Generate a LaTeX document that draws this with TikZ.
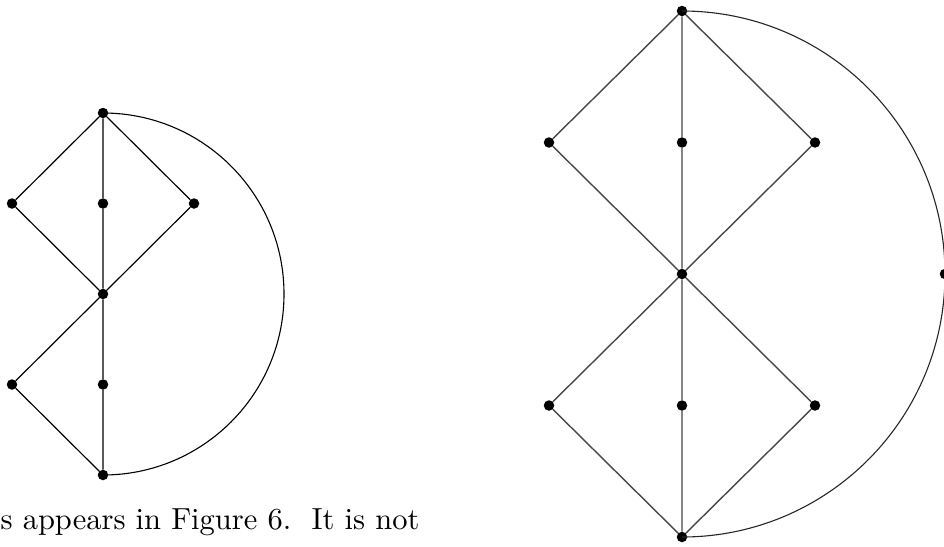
\documentclass[tikz,border=0pt]{standalone}
\begin{document}
\begin{tikzpicture}[x=1pt,y=1pt,
  dot/.style={circle,fill=black,inner sep=0pt,minimum size=10.5pt},
  edgeL/.style={draw=black,line width=1.2pt},
  edgeR/.style={draw=black!72,line width=1.4pt},
  arcL/.style={draw=black,line width=1.1pt},
  arcR/.style={draw=black!85,line width=1.1pt}]
\useasboundingbox (0,0) rectangle (944,-546);
% left graph
\node[dot] (lT) at (103,-113) {};
\node[dot] (lL1) at (12,-203.5) {};
\node[dot] (lM1) at (103,-203.5) {};
\node[dot] (lR1) at (194,-203.5) {};
\node[dot] (lC) at (103,-294) {};
\node[dot] (lL2) at (12,-384.5) {};
\node[dot] (lM2) at (103,-384.5) {};
\node[dot] (lB) at (103,-475) {};
\path[edgeL] (lT) -- (lL1) (lT) -- (lM1) (lT) -- (lR1)
  (lL1) -- (lC) (lM1) -- (lC) (lR1) -- (lC)
  (lC) -- (lL2) (lC) -- (lM2)
  (lL2) -- (lB) (lM2) -- (lB);
\path[arcL] (lT.center) arc[start angle=90,end angle=-90,radius=181];
% right graph
\node[dot] (rT) at (682,-11) {};
\node[dot] (rL1) at (549,-142.5) {};
\node[dot] (rM1) at (682,-142.5) {};
\node[dot] (rR1) at (815,-142.5) {};
\node[dot] (rC) at (682,-274) {};
\node[dot] (rL2) at (549,-405.5) {};
\node[dot] (rM2) at (682,-405.5) {};
\node[dot] (rR2) at (815,-405.5) {};
\node[dot] (rB) at (682,-537) {};
\node[dot] (rE) at (945,-274) {};
\path[edgeR] (rT) -- (rL1) (rT) -- (rM1) (rT) -- (rR1)
  (rL1) -- (rC) (rM1) -- (rC) (rR1) -- (rC)
  (rC) -- (rL2) (rC) -- (rM2) (rC) -- (rR2)
  (rL2) -- (rB) (rM2) -- (rB) (rR2) -- (rB);
\path[arcR] (rT.center) arc[start angle=90,end angle=-90,radius=263];
% text
\node[anchor=base west,inner sep=0pt,scale=3.05] (txt) at (0,-529) {s appears in Figure 6.\ \ It is not};
\end{tikzpicture}
\end{document}
